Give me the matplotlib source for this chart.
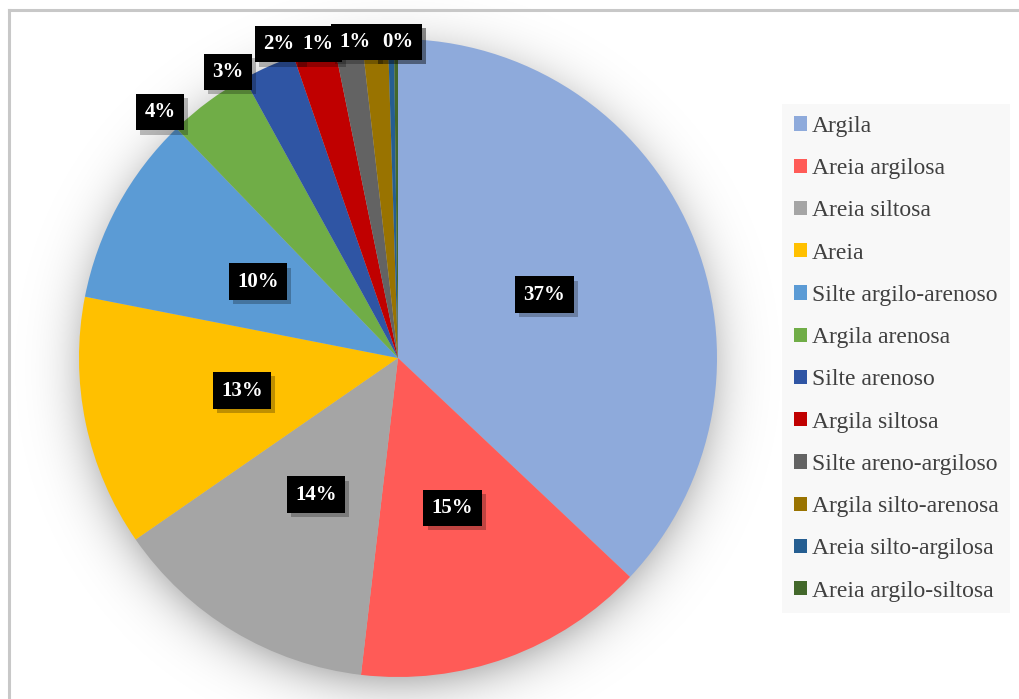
import numpy as np
import matplotlib.pyplot as plt
import matplotlib.patheffects as pe
from matplotlib.lines import Line2D

# soil classes and their share (%)
classes = ["Argila", "Areia argilosa", "Areia siltosa", "Areia",
           "Silte argilo-arenoso", "Argila arenosa", "Silte arenoso",
           "Argila siltosa", "Silte areno-argiloso", "Argila silto-arenosa",
           "Areia silto-argilosa", "Areia argilo-siltosa"]
shares = [37.0, 14.8, 13.5, 12.7, 9.7, 4.2, 2.7, 2.1, 1.4, 1.3, 0.3, 0.2]
colors = ["#8eaadb", "#ff5b57", "#a5a5a5", "#ffc000", "#5b9bd5", "#70ad47",
          "#2f55a4", "#c00000", "#636363", "#997300", "#255e91", "#43682b"]

# outside label layout for the thin slices (radius units, from centre)
small_label_xy = [(-0.746, 0.771), (-0.533, 0.897), (-0.373, 0.984),
                  (-0.251, 0.984), (-0.135, 0.991), (0.0, 0.991), (0.0, 0.991)]

W, H = 1020, 699
fig = plt.figure(figsize=(W / 100, H / 100), dpi=100)
fig.patch.set_facecolor("white")

# chart area border (only top and left visible in the crop)
fig.add_artist(Line2D([9 / W, 9 / W], [0, 1 - 10 / H], color="#c8c8c8", lw=2.2))
fig.add_artist(Line2D([9 / W, 1], [1 - 10 / H, 1 - 10 / H], color="#c8c8c8", lw=2.2))

cx, cy, r = 398 / W, 1 - 358 / H, 319
ax = fig.add_axes([cx - 1.4 * r / W, cy - 1.4 * r / H, 2.8 * r / W, 2.8 * r / H])
ax.axis("off")

# soft drop shadow behind the pie
g = np.linspace(-1.4, 1.4, 700)
gx, gy = np.meshgrid(g, g)
d = np.hypot(gx, gy + 0.03)
a = 0.26 * np.exp(-(np.clip(d - 0.96, 0, None) / 0.08) ** 1.3)
shadow = np.zeros((700, 700, 4))
shadow[..., 3] = a
ax.imshow(shadow, extent=(-1.4, 1.4, -1.4, 1.4), origin="lower", zorder=0,
          interpolation="bilinear")

wedges, texts, autotexts = ax.pie(
    shares, colors=colors, startangle=90, counterclock=False,
    autopct="%.0f%%", pctdistance=0.5, radius=1.0,
    wedgeprops=dict(linewidth=0),
    textprops=dict(color="white", fontweight="bold", fontsize=15,
                   family="Liberation Serif"))
for w in wedges:
    w.set_zorder(2)

for i, t in enumerate(autotexts):
    t.set_bbox(dict(boxstyle="square,pad=0.4", facecolor="black", edgecolor="none"))
    t.get_bbox_patch().set_path_effects(
        [pe.SimplePatchShadow(offset=(3, -3), shadow_rgbFace="#000000", alpha=0.25), pe.Normal()])
    t.set_zorder(5)
    if i >= 5:
        t.set_position(small_label_xy[i - 5])
        t.set_va("center")
        t.set_ha("center")

ax.set_xlim(-1.4, 1.4)
ax.set_ylim(-1.4, 1.4)
ax.set_aspect("equal")

# legend
leg = fig.legend(wedges, classes, loc="upper left",
                 bbox_to_anchor=(782 / W, 1 - 104 / H),
                 frameon=True, facecolor="#f8f8f8", edgecolor="none",
                 fancybox=False, framealpha=1.0,
                 prop=dict(family="Liberation Serif", size=17),
                 labelcolor="#404040", handlelength=0.55, handleheight=0.55,
                 handletextpad=0.2, labelspacing=0.9, borderpad=0.5,
                 borderaxespad=0)

fig.savefig("out.png", dpi=100)
